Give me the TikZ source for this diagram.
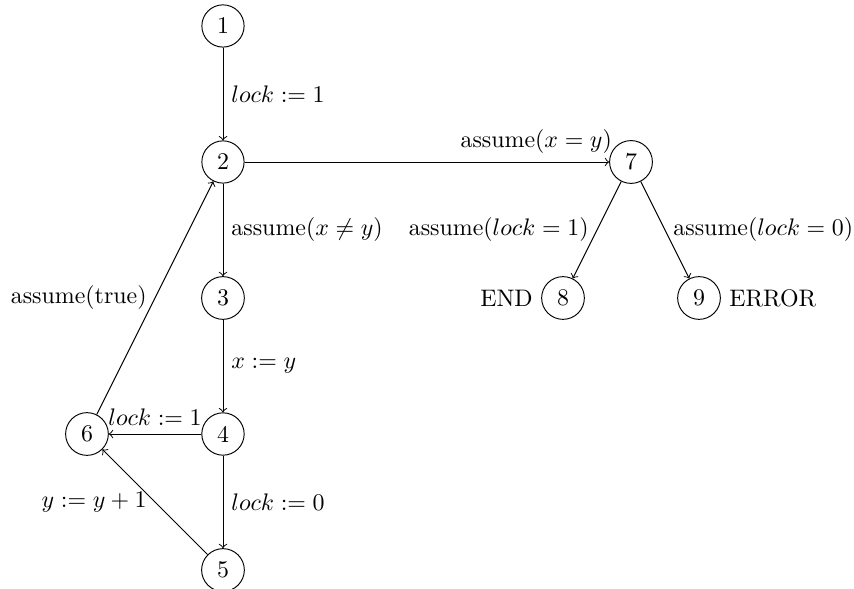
\documentclass[tikz,border=0pt]{standalone}
\begin{document}
\begin{tikzpicture}[
  st/.style={draw, circle},
  tr/.style={->}
]
\useasboundingbox (-3.279,0.382) rectangle (9.279,-8.279);
\node[st] (n1) at (0,0) {1};
\node[st] (n2) at (0,-2) {2};
\node[st] (n3) at (0,-4) {3};
\node[st] (n4) at (0,-6) {4};
\node[st] (n5) at (0,-8) {5};
\node[st] (n6) at (-2,-6) {6};
\node[st] (n7) at (6,-2) {7};
\node[st, label=left:END] (n8) at (5,-4) {8};
\node[st, label=right:ERROR] (n9) at (7,-4) {9};

\draw[tr] (n1) -- node[right] {$lock := 1$} (n2);
\draw[tr] (n2) -- node[right] {assume($x \neq y$)} (n3);
\draw[tr] (n3) -- node[right] {$x := y$} (n4);
\draw[tr] (n4) -- node[right] {$lock := 0$} (n5);
\draw[tr] (n4) -- node[above] {$lock := 1$} (n6);
\draw[tr] (n5) -- node[left] {$y := y+1$} (n6);
\draw[tr] (n6) -- node[left] {assume(true)} (n2);
\draw[tr] (n2) -- node[above, pos=0.8] {assume($x = y$)} (n7);
\draw[tr] (n7) -- node[left] {assume($lock = 1$)} (n8);
\draw[tr] (n7) -- node[right] {assume($lock = 0$)} (n9);
\end{tikzpicture}
\end{document}
